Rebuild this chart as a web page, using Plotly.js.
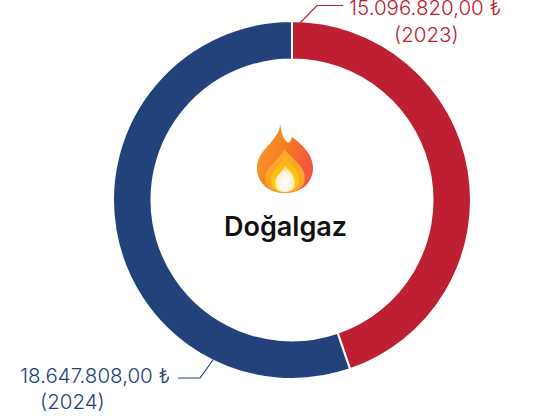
<!DOCTYPE html>
<html><head><meta charset="utf-8">
<script src="https://cdn.plot.ly/plotly-3.0.1.min.js"></script>
<style>html,body{margin:0;padding:0;background:#fff;overflow:hidden}</style>
</head><body><div id="chart" style="width:535px;height:417px"></div>
<script>
const years = ['2023', '2024'];
const values = [15096820, 18647808];
const valueLabels = ['15.096.820,00 ₺', '18.647.808,00 ₺'];
const colors = ['#BE2031', '#22427C'];
const centerTitle = 'Doğalgaz';
const W = 535, H = 417;
const px = x => x / W, py = y => 1 - y / H;
const FONT = 'Inter, "Open Sans", sans-serif';

const flame = `<svg xmlns="http://www.w3.org/2000/svg" width="60" height="72" viewBox="0 0 60 72">
<defs>
<linearGradient id="a" x1="0" y1="0" x2="1" y2="0.4"><stop offset="0" stop-color="#F9A030"/><stop offset="0.55" stop-color="#F57C22"/><stop offset="1" stop-color="#F4553F"/></linearGradient>
<linearGradient id="b" x1="0" y1="0" x2="0" y2="1"><stop offset="0" stop-color="#F9B01E"/><stop offset="1" stop-color="#FFD000"/></linearGradient>
<radialGradient id="c" cx="0.5" cy="0.62" r="0.55"><stop offset="0" stop-color="#FFFFFF"/><stop offset="0.65" stop-color="#FFF3DC"/><stop offset="1" stop-color="#FFDC80"/></radialGradient>
<filter id="s"><feGaussianBlur stdDeviation="0.6"/></filter>
</defs>
<g filter="url(#s)">
<path d="M25 1 C27 8 26 13 32 19 C35 21 36 17 37 14 C48 22 58 32 58 45 C58 60 46 70 30 70 C14 70 2 60 2 45 C2 30 14 24 20 14 C23 10 25 6 25 1Z" fill="url(#a)"/>
<path d="M29 26 C38 36 50 44 50 55 C50 65 40 70 30 70 C19 70 10 65 10 55 C10 44 24 38 29 26Z" fill="#F9A62C"/>
<path d="M30 32 C35 40 44 47 44 57 C44 65 37 69 30 69 C22 69 16 65 16 57 C16 47 27 42 30 32Z" fill="url(#b)"/>
<path d="M30 43 C35 48 40 53 40 60 C40 66 35 69 30 69 C24 69 20 66 20 60 C20 53 27 49 30 43Z" fill="url(#c)"/>
</g></svg>`;

const data = [{
  type: 'pie',
  labels: years,
  values: values,
  hole: 0.785,
  sort: false,
  direction: 'clockwise',
  rotation: 0,
  textinfo: 'none',
  hoverinfo: 'label+value',
  marker: { colors: colors, line: { color: '#ffffff', width: 2 } },
  domain: { x: [px(113), px(471)], y: [py(379), py(21)] }
}];

const note = (x, y, text, color, size, weight) => ({
  xref: 'paper', yref: 'paper', x: px(x), y: py(y), text: text,
  showarrow: false, xanchor: 'center', yanchor: 'middle',
  font: { family: FONT, size: size, color: color, weight: weight || 300 }
});
const leader = (path, color) => ({
  type: 'path', xref: 'paper', yref: 'paper', path: path,
  line: { color: color, width: 1.2 }, fillcolor: 'rgba(0,0,0,0)'
});
const P = pts => pts.map((p, i) => (i ? 'L' : 'M') + px(p[0]) + ',' + py(p[1])).join(' ');

const layout = {
  width: W, height: H,
  margin: { l: 0, r: 0, t: 0, b: 0 },
  paper_bgcolor: '#fff',
  showlegend: false,
  shapes: [
    leader(P([[300, 23], [317, 5.5], [343, 5.5]]), colors[0]),
    leader(P([[213, 360], [200, 378], [178, 378]]), colors[1])
  ],
  annotations: [
    note(424.5, 8, valueLabels[0], colors[0], 20.5),
    note(426, 34, '(' + years[0] + ')', colors[0], 20.5),
    note(95, 375, valueLabels[1], colors[1], 20.5),
    note(72.5, 401, '(' + years[1] + ')', colors[1], 20.5),
    note(285.5, 227, centerTitle, '#111111', 27, 600)
  ],
  images: [{
    source: 'data:image/svg+xml;charset=utf-8,' + encodeURIComponent(flame),
    xref: 'paper', yref: 'paper', x: px(255), y: py(123),
    sizex: 60 / W, sizey: 72 / H, sizing: 'stretch',
    xanchor: 'left', yanchor: 'top', layer: 'above'
  }]
};
Plotly.newPlot('chart', data, layout, { displayModeBar: false, staticPlot: true });
</script></body></html>
